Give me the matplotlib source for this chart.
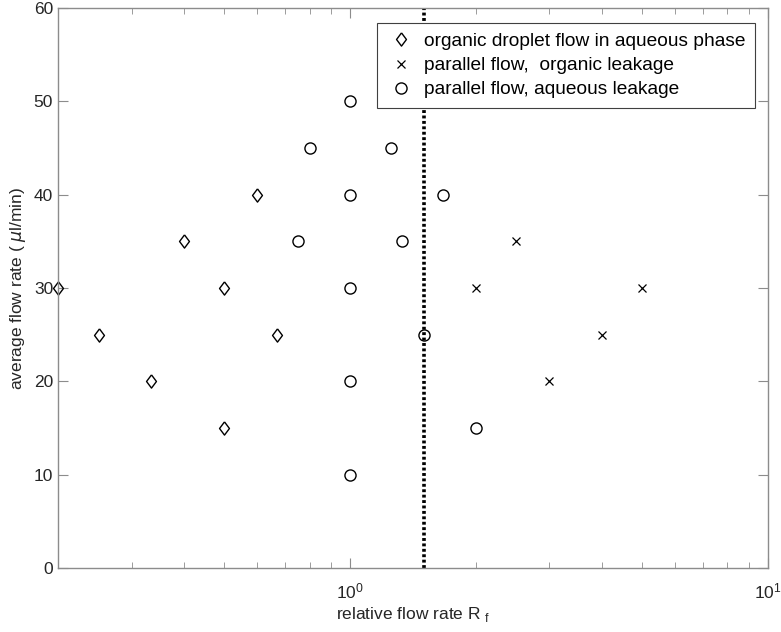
import numpy as np
import matplotlib.pyplot as plt

plt.rcParams['font.family'] = ['Liberation Sans', 'DejaVu Sans']

# organic droplet flow in aqueous phase
dropX = [0.2, 0.25, 1/3, 0.4, 0.5, 0.5, 0.6, 2/3]
dropY = [30, 25, 20, 35, 30, 15, 40, 25]

# parallel flow, organic leakage
orgX = [2, 2.5, 3, 4, 5]
orgY = [30, 35, 20, 25, 30]

# parallel flow, aqueous leakage
aqX = [1, 1, 1, 1, 1, 0.8, 0.75, 1.25, 4/3, 5/3, 1.5, 2]
aqY = [50, 40, 30, 20, 10, 45, 35, 45, 35, 40, 25, 15]

boundaryX = 1.5

# matlab-like diamond, a bit taller than wide
diamond = [(0, 1), (0.75, 0), (0, -1), (-0.75, 0), (0, 1)]

fig = plt.figure(figsize=(7.81, 6.32), dpi=100)
ax = fig.add_axes([0.0743, 0.1013, 0.909, 0.886])

ax.plot(dropX, dropY, linestyle='none', marker=diamond, mfc='none', mec='k',
        ms=9.5, mew=1.0, clip_on=False,
        label='organic droplet flow in aqueous phase')
ax.plot(orgX, orgY, 'x', color='k', ms=6, mew=0.9,
        label='parallel flow,  organic leakage')
ax.plot(aqX, aqY, 'o', mfc='none', mec='k', ms=8, mew=1.0,
        label='parallel flow, aqueous leakage')
ax.plot([boundaryX, boundaryX], [0, 60], color='k', lw=2.6,
        linestyle=(0, (0.8, 0.7)), zorder=1)

ax.set_xscale('log')
ax.set_xlim(0.2, 10)
ax.set_ylim(0, 60)
ax.set_yticks(np.arange(0, 61, 10))
ax.set_xticks([1, 10])
ax.set_xticklabels([r'$\mathregular{10^0}$', r'$\mathregular{10^1}$'])

for s in ax.spines.values():
    s.set_color('#8c8c8c')
    s.set_linewidth(1.0)
ax.tick_params(which='both', direction='in', top=True, right=True,
               colors='#8c8c8c', labelcolor='#262626', labelsize=12.5)
ax.tick_params(which='major', length=7)
ax.tick_params(which='minor', length=4)
ax.tick_params(axis='x', pad=10)

ax.set_xlabel(r'relative flow rate R$_{\mathregular{\ f}}$', fontsize=12.5,
              color='#262626', labelpad=2)
ax.set_ylabel(r'average flow rate ( $\mu$l/min)', fontsize=12.5, color='#262626')

leg = ax.legend(loc='upper right', bbox_to_anchor=(0.9817, 0.973), fontsize=13.8,
                frameon=True, fancybox=False, framealpha=1, edgecolor='#404040',
                borderaxespad=0, handlelength=1.5, borderpad=0.5,
                labelspacing=0.35, handletextpad=0.45)
leg.get_frame().set_linewidth(0.8)
leg.set_zorder(5)

fig.savefig('out.png', dpi=100)
